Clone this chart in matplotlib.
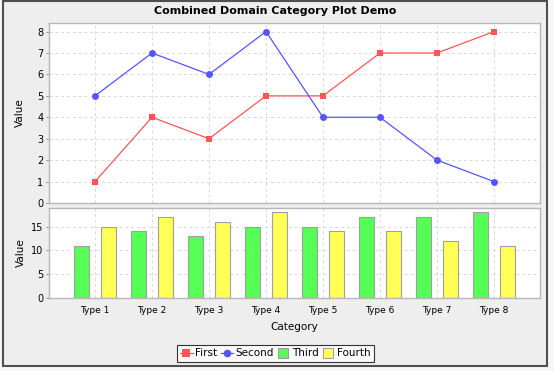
import numpy as np
import matplotlib
matplotlib.use('Agg')
import matplotlib.pyplot as plt
from matplotlib.lines import Line2D
from matplotlib.patches import Rectangle

# Data
categories = ['Type 1', 'Type 2', 'Type 3', 'Type 4', 'Type 5', 'Type 6', 'Type 7', 'Type 8']
first = [1, 4, 3, 5, 5, 7, 7, 8]
second = [5, 7, 6, 8, 4, 4, 2, 1]
third = [11, 14, 13, 15, 15, 17, 17, 18]
fourth = [15, 17, 16, 18, 14, 14, 12, 11]

red = '#FF5555'
blue = '#5555FF'
green = '#55FF55'
yellow = '#FFFF55'
grid_col = '#D8D8D8'
frame_col = '#B8B8B8'

W, H = 554, 371
fig = plt.figure(figsize=(W / 100, H / 100), dpi=100)
fig.patch.set_facecolor('#F7F7F7')

# panel background and dark border
fig.patches.append(Rectangle((3 / W, 1 - 365.5 / H), 544 / W, 364.5 / H,
                             transform=fig.transFigure, facecolor='#EEEEEE',
                             edgecolor='#505050', linewidth=1.5, zorder=-5))

def fx(px):
    return px / W

def fy(py):
    return 1 - py / H

left, right = 49, 540
ax1 = fig.add_axes([fx(left), fy(203), fx(right) - fx(left), fy(23) - fy(203)])
ax2 = fig.add_axes([fx(left), fy(298), fx(right) - fx(left), fy(208) - fy(298)])

x = np.arange(len(categories))
xlim = (-0.807, 7.807)

for ax in (ax1, ax2):
    ax.set_facecolor('white')
    ax.set_xlim(*xlim)
    ax.set_xticks(x)
    ax.grid(True, color=grid_col, linestyle=(0, (3, 3)), linewidth=0.7)
    ax.set_axisbelow(True)
    for s in ax.spines.values():
        s.set_color(frame_col)
        s.set_linewidth(1.0)
    ax.tick_params(axis='y', labelsize=7, length=2, width=0.6, color='#808080', pad=2)
    ax.tick_params(axis='x', length=0)

ax1.set_ylabel('Value', fontsize=7.5, labelpad=9)
ax2.set_ylabel('Value', fontsize=7.5, labelpad=4)

# upper line plot
ax1.plot(x, first, color=red, linewidth=0.9, marker='s', markersize=5, markeredgewidth=0)
ax1.plot(x, second, color=blue, linewidth=0.9, marker='o', markersize=5, markeredgewidth=0)
ax1.set_ylim(0, 8.4)
ax1.set_yticks(range(0, 9))
ax1.tick_params(axis='x', labelbottom=False)

# lower bar plot
bw = 0.265
off = 0.237
ax2.bar(x - off, third, width=bw, color=green, edgecolor='#A0A0A0', linewidth=0.8)
ax2.bar(x + off, fourth, width=bw, color=yellow, edgecolor='#A0A0A0', linewidth=0.8)
ax2.set_ylim(0, 18.9)
ax2.set_yticks([0, 5, 10, 15])
ax2.set_xticklabels(categories, fontsize=6.5)
ax2.tick_params(axis='x', pad=6)
ax2.set_xlabel('Category', fontsize=7.5, labelpad=5)

fig.text(fx(275), fy(11), 'Combined Domain Category Plot Demo', ha='center', va='center',
         fontsize=8, fontweight='bold')

handles = [
    Line2D([0], [0], color=red, marker='s', markersize=5.5, linewidth=0.9, markeredgewidth=0),
    Line2D([0], [0], color=blue, marker='o', markersize=5.5, linewidth=0.9, markeredgewidth=0),
    Line2D([0], [0], linestyle='none', marker='s', markersize=6.5, markerfacecolor=green,
           markeredgecolor='#909090', markeredgewidth=0.6),
    Line2D([0], [0], linestyle='none', marker='s', markersize=6.5, markerfacecolor=yellow,
           markeredgecolor='#909090', markeredgewidth=0.6),
]
leg = fig.legend(handles, ['First', 'Second', 'Third', 'Fourth'], loc='center',
                 bbox_to_anchor=(fx(275.5), fy(353.5)), ncol=4, fontsize=7.5,
                 frameon=True, fancybox=False, handlelength=1.2, handletextpad=0.25,
                 columnspacing=0.3, borderpad=0.3, borderaxespad=0)
leg.get_frame().set_edgecolor('black')
leg.get_frame().set_linewidth(0.8)
leg.get_frame().set_facecolor('white')

fig.savefig('out.png', dpi=100, facecolor=fig.get_facecolor())
